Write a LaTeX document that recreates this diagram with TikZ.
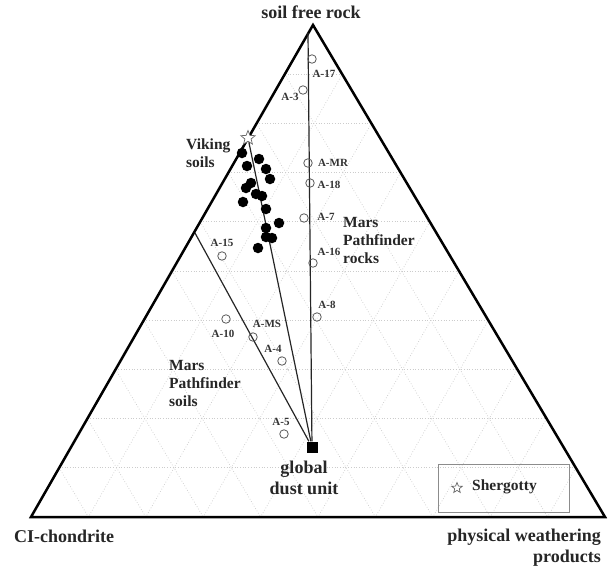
\documentclass[tikz,border=0pt]{standalone}
\usepackage{fontspec}
\setmainfont{Liberation Serif}
\usetikzlibrary{calc,shapes.geometric}
\tikzset{
  gridline/.style={gray!40, dotted, line width=0.7pt},
  frame/.style={black, line width=2.5pt, line join=miter},
  feat/.style={black!85, line width=1.2pt},
  opc/.style={circle, draw=black!65, line width=0.8pt, minimum size=8.5pt, inner sep=0pt},
  fdot/.style={circle, fill=black, minimum size=10.5pt, inner sep=0pt},
  slab/.style={font=\fontsize{11}{12}\selectfont\bfseries, text=black!80, inner sep=0pt},
  mlab/.style={font=\fontsize{15.5}{18}\selectfont\bfseries, text=black!85, align=left, inner sep=0pt},
  blab/.style={font=\fontsize{18}{21}\selectfont\bfseries, text=black!85, inner sep=0pt},
  starmark/.style={star, star points=5, star point ratio=2.3, draw=black!60, line width=0.7pt, inner sep=0pt}
}
\begin{document}
\begin{tikzpicture}[x=1pt,y=-1pt]
\useasboundingbox (0,0) rectangle (608,568);
\fill[white] (0,0) rectangle (608,568);
\coordinate (A) at (313,25);
\coordinate (L) at (31,517);
\coordinate (R) at (605,517);
% grid
\foreach \i in {1,...,9} {
  \draw[gridline] ($(L)!\i/10!(A)$) -- ($(R)!\i/10!(A)$);
  \draw[gridline] ($(A)!\i/10!(L)$) -- ($(R)!\i/10!(L)$);
  \draw[gridline] ($(A)!\i/10!(R)$) -- ($(L)!\i/10!(R)$);
}
% triangle
\draw[frame] (A) -- (L) -- (R) -- cycle;
% global dust unit
\node[rectangle, fill=black, minimum size=11pt, inner sep=0pt] (dust) at (312,447) {};
\coordinate (ptop) at (308,33);
\coordinate (pleft) at (195,233);
\node[starmark, minimum size=15pt, fill=white] (viking) at (248,138) {};
\draw[feat] (ptop) -- (dust);
\draw[feat] (viking) -- (dust);
\draw[feat] (pleft) -- (dust);
% Viking soils dots
\foreach \x/\y [count=\k] in {242/153,259/159,247/166,266/169,270/179,251/183,246/188,256/194,262/196,243/202,266/209,279/223,266/228,266/237,272/238,258/248} {
  \node[fdot] (v\k) at (\x,\y) {};
}
% Pathfinder samples
\node[opc] (a17) at (312,59) {};
\node[slab] (a17l) at (324,74) {A-17};
\node[opc] (a3) at (303,90) {};
\node[slab] (a3l) at (290,97) {A-3};
\node[opc] (amr) at (308,163) {};
\node[slab] (amrl) at (333,163) {A-MR};
\node[opc] (a18) at (310,183) {};
\node[slab] (a18l) at (329,185) {A-18};
\node[opc] (a7) at (304,218) {};
\node[slab] (a7l) at (326,217) {A-7};
\node[opc] (a16) at (313,263) {};
\node[slab] (a16l) at (329,252) {A-16};
\node[opc] (a15) at (222,256) {};
\node[slab] (a15l) at (222,243) {A-15};
\node[opc] (a8) at (317,317) {};
\node[slab] (a8l) at (327,305) {A-8};
\node[opc] (a10) at (226,319) {};
\node[slab] (a10l) at (223,334) {A-10};
\node[opc] (ams) at (253,337) {};
\node[slab] (amsl) at (267,324) {A-MS};
\node[opc] (a4) at (282,361) {};
\node[slab] (a4l) at (273,349) {A-4};
\node[opc] (a5) at (284,434) {};
\node[slab] (a5l) at (281,422) {A-5};
% labels
\node[blab] (top) at (311,12) {soil free rock};
\node[blab, anchor=west] (ci) at (14,536) {CI-chondrite};
\node[blab, anchor=north east, align=right] (pw) at (601,529) {physical weathering\\products};
\node[mlab, anchor=west] (vs) at (186,153) {Viking\\soils};
\node[mlab, anchor=west] (mpr) at (343,240) {Mars\\Pathfinder\\rocks};
\node[mlab, anchor=west] (mps) at (169,383) {Mars\\Pathfinder\\soils};
\node[blab, align=center] (gdu) at (304,478) {global\\dust unit};
% legend
\node[draw=black!45, line width=0.8pt, minimum width=131pt, minimum height=48pt, inner sep=0pt] (leg) at (503.5,488) {};
\node[starmark, minimum size=11pt] (legstar) at (457,488) {};
\node[mlab, anchor=west] (shg) at (472,487) {Shergotty};
\end{tikzpicture}
\end{document}
